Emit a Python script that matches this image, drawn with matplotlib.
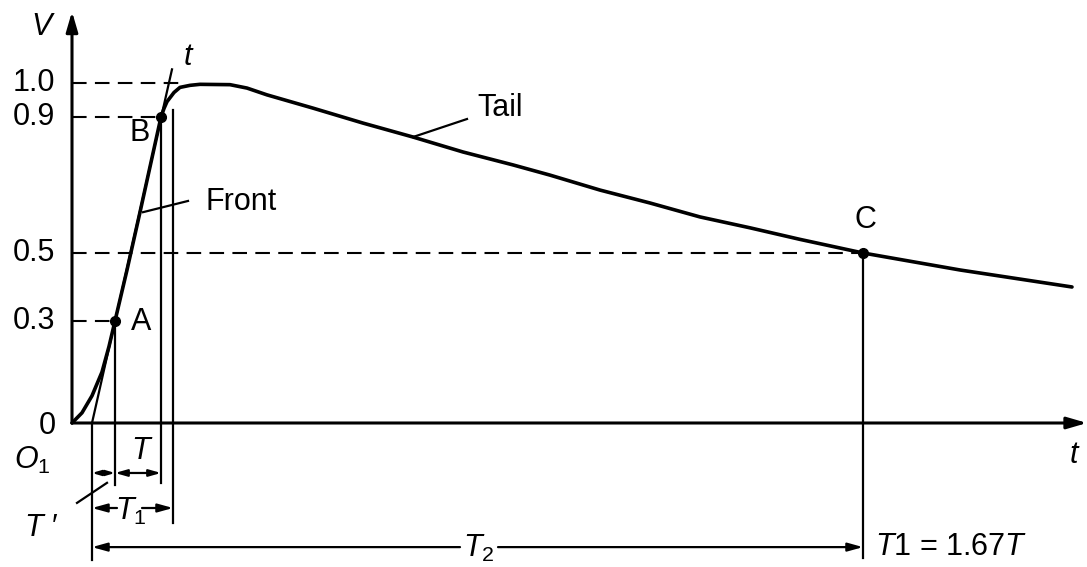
import numpy as np
import matplotlib
matplotlib.use("Agg")
import matplotlib.pyplot as plt

plt.rcParams['font.family'] = ['Liberation Sans', 'DejaVu Sans']
plt.rcParams['mathtext.fontset'] = 'custom'
plt.rcParams['mathtext.rm'] = 'Liberation Sans'
plt.rcParams['mathtext.it'] = 'Liberation Sans:italic'

# impulse wave (t in arbitrary units, V per unit)
curve_t = [0, 0.10, 0.20, 0.30, 0.37, 0.43, 0.55, 0.68, 0.80, 0.89, 0.92, 0.95,
           1.02, 1.08, 1.18, 1.28, 1.58, 1.75, 1.95, 2.41, 2.91, 3.41, 3.91,
           4.41, 4.78, 5.28, 5.78, 6.28, 6.78, 7.28, 7.91, 8.88, 10.0]
curve_v = [0, 0.03, 0.08, 0.15, 0.225, 0.30, 0.45, 0.62, 0.78, 0.90, 0.925, 0.945,
           0.972, 0.987, 0.993, 0.996, 0.995, 0.985, 0.965, 0.926, 0.882, 0.841, 0.797,
           0.759, 0.729, 0.685, 0.647, 0.606, 0.574, 0.540, 0.50, 0.45, 0.40]

# marked points
point_names = ['A', 'B', 'C']
point_t = [0.43, 0.89, 7.91]
point_v = [0.3, 0.9, 0.5]

o1_t = 0.2          # virtual origin O1
t1_end = 1.01       # end of front time T1
tangent_top = (1.0, 1.04)

ytick_vals = [1.0, 0.9, 0.5, 0.3, 0]
ytick_labels = ['1.0', '0.9', '0.5', '0.3', '0']

FS = 22

fig = plt.figure(figsize=(10.87, 5.67), dpi=100)
ax = fig.add_axes([0, 0, 1, 1])
ax.set_xlim(-0.72, 10.15)
ax.set_ylim(-0.4235, 1.244)
ax.axis('off')

# axes with arrows
ax.annotate('', xy=(0, 1.21), xytext=(0, 0),
            arrowprops=dict(arrowstyle='-|>,head_length=1.2,head_width=0.35', lw=2.2, color='black',
                            shrinkA=0, shrinkB=0))
ax.annotate('', xy=(10.15, 0), xytext=(0, 0),
            arrowprops=dict(arrowstyle='-|>,head_length=1.2,head_width=0.35', lw=2.2, color='black',
                            shrinkA=0, shrinkB=0))

# dashed reference levels
dash = dict(color='black', lw=1.5, dashes=(7, 4))
ax.plot([0, 1.13], [1.0, 1.0], **dash)
ax.plot([0, point_t[1]], [0.9, 0.9], **dash)
ax.plot([0, point_t[2]], [0.5, 0.5], **dash)
ax.plot([0, point_t[0]], [0.3, 0.3], **dash)

# the wave
ax.plot(curve_t, curve_v, color='black', lw=2.6, solid_joinstyle='round', solid_capstyle='round')

# tangent through A and B
ax.plot([o1_t, tangent_top[0]], [0, tangent_top[1]], color='black', lw=1.6)

# points
ax.plot(point_t, point_v, 'o', color='black', ms=7)

# vertical construction lines
vl = dict(color='black', lw=1.6)
ax.plot([o1_t, o1_t], [0, -0.403], **vl)
ax.plot([point_t[0], point_t[0]], [0.3, -0.182], **vl)
ax.plot([point_t[1], point_t[1]], [0.9, -0.176], **vl)
ax.plot([t1_end, t1_end], [0.92, -0.294], **vl)
ax.plot([point_t[2], point_t[2]], [0.5, -0.397], **vl)

# dimension arrows
def dim(x0, x1, y, style='-|>', hw=0.25, hl=0.9):
    ax.annotate('', xy=(x1, y), xytext=(x0, y),
                arrowprops=dict(arrowstyle=f'{style},head_length={hl},head_width={hw}',
                                lw=1.6, color='black', shrinkA=0, shrinkB=0))

y_t = -0.147
dim(o1_t, point_t[0], y_t, style='<|-|>', hw=0.15, hl=0.5)
dim(point_t[0], point_t[1], y_t, style='<|-|>', hw=0.2, hl=0.7)
y_t1 = -0.25
dim(0.45, o1_t, y_t1)
dim(0.70, t1_end, y_t1)
y_t2 = -0.365
dim(3.88, o1_t, y_t2)
dim(4.26, point_t[2], y_t2)

# T' leader
ax.plot([0.05, 0.35], [-0.235, -0.176], color='black', lw=1.6)

# tick labels
for v, lab in zip(ytick_vals, ytick_labels):
    ax.text(-0.165, v - (0.01 if v == 0 else 0), lab, ha='right', va='center', fontsize=FS)

# point labels
ax.text(0.69, 0.297, 'A', ha='center', va='center', fontsize=FS)
ax.text(0.68, 0.853, 'B', ha='center', va='center', fontsize=FS)
ax.text(7.93, 0.597, 'C', ha='center', va='center', fontsize=FS)

# Front / Tail leaders
ax.plot([0.71, 1.16], [0.62, 0.653], color='black', lw=1.6)
ax.text(1.33, 0.65, 'Front', ha='left', va='center', fontsize=FS)
ax.plot([3.41, 3.95], [0.841, 0.894], color='black', lw=1.6)
ax.text(4.05, 0.926, 'Tail', ha='left', va='center', fontsize=FS)

# axis names and symbols
ax.text(-0.29, 1.165, '$V$', ha='center', va='center', fontsize=FS)
ax.text(1.17, 1.076, '$t$', ha='center', va='center', fontsize=FS)
ax.text(10.03, -0.094, '$t$', ha='center', va='center', fontsize=FS)
ax.text(-0.40, -0.11, '$O_1$', ha='center', va='center', fontsize=FS)
ax.text(-0.31, -0.31, '$T$ \u2032', ha='center', va='center', fontsize=FS)
ax.text(0.70, -0.082, '$T$', ha='center', va='center', fontsize=FS)
ax.text(0.59, -0.26, '$T_1$', ha='center', va='center', fontsize=FS)
ax.text(4.07, -0.37, '$T_2$', ha='center', va='center', fontsize=FS)
ax.text(8.03, -0.365, '$T$1 = 1.67$T$', ha='left', va='center', fontsize=FS)

fig.savefig('out.png', dpi=100)
